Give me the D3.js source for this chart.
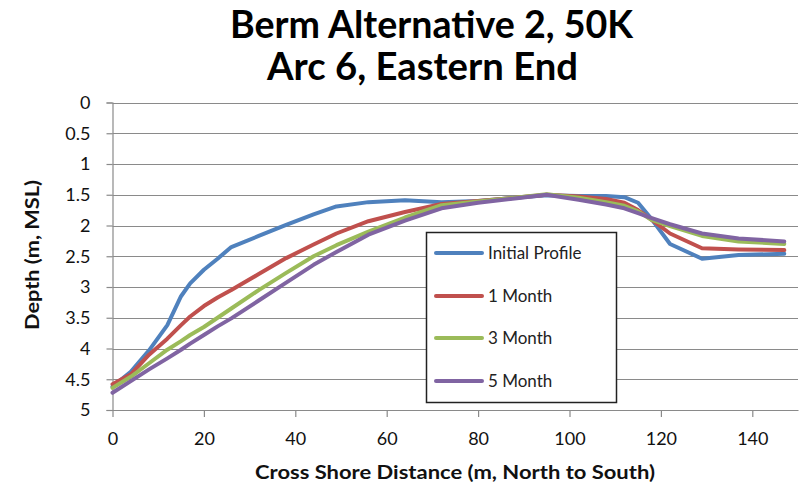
<!DOCTYPE html>
<html><head><meta charset="utf-8">
<script src="https://cdn.jsdelivr.net/npm/d3@7"></script>
<style>
html,body{margin:0;padding:0;background:#fff;}
svg{display:block;font-family:Lato,"Open Sans",sans-serif;}
</style></head>
<body><svg id="c" width="806" height="488"></svg>
<script>
const titleLines = ["Berm Alternative 2, 50K", "Arc 6, Eastern End"];
const xLabel = "Cross Shore Distance (m, North to South)";
const yLabel = "Depth (m, MSL)";
const xTicks = [0, 20, 40, 60, 80, 100, 120, 140];
const yTicks = [0, 0.5, 1, 1.5, 2, 2.5, 3, 3.5, 4, 4.5, 5];
const distance = [0, 4, 8, 12, 15, 17, 20, 23, 26, 32, 38, 44, 49, 56, 64, 72, 80, 88, 95, 102, 108, 112, 115, 118, 122, 129, 137, 147];
const initialProfile = [4.62, 4.38, 4.03, 3.62, 3.15, 2.94, 2.72, 2.54, 2.35, 2.17, 1.99, 1.82, 1.69, 1.62, 1.59, 1.62, 1.60, 1.55, 1.51, 1.52, 1.52, 1.54, 1.63, 1.90, 2.30, 2.54, 2.48, 2.46];
const month1 = [4.58, 4.42, 4.10, 3.84, 3.62, 3.48, 3.31, 3.17, 3.05, 2.79, 2.53, 2.31, 2.13, 1.93, 1.78, 1.65, 1.60, 1.55, 1.50, 1.53, 1.57, 1.63, 1.75, 1.91, 2.13, 2.37, 2.39, 2.40];
const month3 = [4.64, 4.46, 4.24, 4.02, 3.88, 3.78, 3.65, 3.50, 3.35, 3.05, 2.77, 2.50, 2.32, 2.10, 1.87, 1.67, 1.61, 1.55, 1.49, 1.55, 1.62, 1.68, 1.77, 1.91, 2.01, 2.17, 2.26, 2.30];
const month5 = [4.72, 4.53, 4.34, 4.16, 4.02, 3.92, 3.78, 3.64, 3.51, 3.22, 2.93, 2.64, 2.43, 2.15, 1.92, 1.72, 1.63, 1.56, 1.50, 1.58, 1.66, 1.72, 1.80, 1.88, 1.98, 2.13, 2.21, 2.26];
const seriesNames = ["Initial Profile", "1 Month", "3 Month", "5 Month"];
const seriesColors = ["#4F81BD", "#C0504D", "#9BBB59", "#8064A2"];
const seriesValues = [initialProfile, month1, month3, month5];

const svg = d3.select("#c");
const x = d3.scaleLinear().domain([0, 150]).range([112.5, 798]);
const y = d3.scaleLinear().domain([0, 5]).range([102.5, 410]);
const gridCol = "#8a8a8a";

// gridlines
svg.append("g").selectAll("line").data(yTicks).join("line")
  .attr("x1", x(0)).attr("x2", x(150))
  .attr("y1", d => Math.round(y(d)) + 0.5).attr("y2", d => Math.round(y(d)) + 0.5)
  .attr("stroke", gridCol).attr("stroke-width", 1.2);

// y axis
const yAxis = svg.append("g").attr("transform", `translate(${x(0)},0)`)
  .call(d3.axisLeft(y).tickValues(yTicks).tickSize(6).tickPadding(16).tickFormat(d3.format("")));
yAxis.select(".domain").attr("stroke", gridCol).attr("stroke-width", 1.2);
yAxis.selectAll(".tick line").attr("stroke", gridCol).attr("stroke-width", 1.2);
yAxis.selectAll(".tick text").attr("font-size", 18).attr("fill", "#111").attr("font-family", "Lato, sans-serif");

// x axis
const xAxis = svg.append("g").attr("transform", `translate(0,${y(5)})`)
  .call(d3.axisBottom(x).tickValues(xTicks).tickSize(7).tickSizeOuter(0).tickPadding(15));
xAxis.select(".domain").attr("stroke", gridCol).attr("stroke-width", 1.2);
xAxis.selectAll(".tick line").attr("stroke", gridCol).attr("stroke-width", 1.2);
xAxis.selectAll(".tick text").attr("font-size", 18).attr("fill", "#111").attr("font-family", "Lato, sans-serif");

// lines
const line = d3.line().x((d, i) => x(distance[i])).y(d => y(d));
seriesValues.forEach((vals, k) => {
  svg.append("path").datum(vals).attr("d", line)
    .attr("fill", "none").attr("stroke", seriesColors[k]).attr("stroke-width", 4)
    .attr("stroke-linejoin", "round").attr("stroke-linecap", "round");
});

// title
const tl = [{t: titleLines[0], x: 230, y: 38, w: 403}, {t: titleLines[1], x: 267, y: 80, w: 311}];
svg.append("g").selectAll("text").data(tl).join("text")
  .attr("x", d => d.x).attr("y", d => d.y).text(d => d.t)
  .attr("font-size", 38).attr("font-weight", "bold").attr("fill", "#000")
  .attr("textLength", d => d.w).attr("lengthAdjust", "spacingAndGlyphs");

// axis titles
svg.append("text").attr("x", 255).attr("y", 479)
  .attr("font-size", 18).attr("font-weight", "bold").attr("fill", "#111")
  .attr("textLength", 400).attr("lengthAdjust", "spacingAndGlyphs").text(xLabel);
svg.append("text").attr("transform", "translate(39,255) rotate(-90)").attr("text-anchor", "middle")
  .attr("font-size", 18).attr("font-weight", "bold").attr("fill", "#111")
  .attr("textLength", 150).attr("lengthAdjust", "spacingAndGlyphs").text(yLabel);

// legend
const lg = svg.append("g");
lg.append("rect").attr("x", 426.5).attr("y", 232.5).attr("width", 190).attr("height", 170)
  .attr("fill", "#fff").attr("stroke", "#222").attr("stroke-width", 1.5);
const ly = [253, 296, 338, 381];
seriesNames.forEach((n, k) => {
  lg.append("line").attr("x1", 436).attr("x2", 482).attr("y1", ly[k]).attr("y2", ly[k])
    .attr("stroke", seriesColors[k]).attr("stroke-width", 4).attr("stroke-linecap", "round");
  lg.append("text").attr("x", 488).attr("y", ly[k] + 6).attr("font-size", 17)
    .attr("fill", "#222").text(n);
});
</script></body></html>
